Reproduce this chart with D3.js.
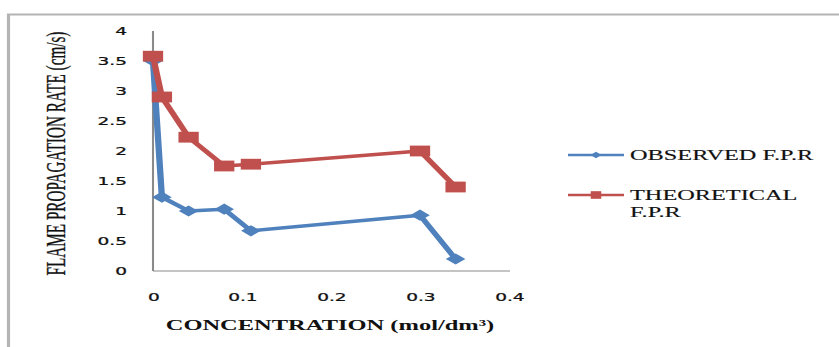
<!DOCTYPE html>
<html><head><meta charset="utf-8">
<script src="https://cdn.jsdelivr.net/npm/d3@7"></script>
<style>html,body{margin:0;padding:0;background:#fff;overflow:hidden}</style>
</head><body>
<script>
// Flame propagation rate against inhibitor concentration
const concentration = [0, 0.01, 0.04, 0.08, 0.11, 0.30, 0.34];
const observedFPR = [3.5, 1.23, 1.0, 1.03, 0.67, 0.93, 0.2];
const theoreticalFPR = [3.58, 2.9, 2.23, 1.75, 1.78, 2.0, 1.4];
const xTicks = [0, 0.1, 0.2, 0.3, 0.4];
const yTicks = [0, 0.5, 1, 1.5, 2, 2.5, 3, 3.5, 4];
const seriesNames = ["OBSERVED F.P.R", "THEORETICAL F.P.R"];
const seriesColors = ["#4F81BD", "#C0504D"];

// The whole drawing is laid out in a narrower coordinate space and widened horizontally.
const W = 839, H = 347, SX = 1.75;
const px = v => v / SX;

const svg = d3.select("body").append("svg")
  .attr("width", W).attr("height", H)
  .attr("viewBox", `0 0 ${W / SX} ${H}`)
  .attr("preserveAspectRatio", "none");

// Outer frame: top and left edges only
svg.append("path")
  .attr("d", `M${px(8.5)},${H} V14.5 H${W / SX}`)
  .attr("fill", "none").attr("stroke", "#b4b4b4").attr("stroke-width", 1.8);

const x = d3.scaleLinear().domain([0, 0.4]).range([px(153), px(509)]);
const y = d3.scaleLinear().domain([0, 4]).range([271, 31]);

const tickFont = "'DejaVu Sans', Verdana, sans-serif";
const serif = "'Liberation Serif', 'Times New Roman', serif";

// Axes (no tick marks)
const xAxis = svg.append("g").attr("transform", `translate(0,${y(0)})`)
  .call(d3.axisBottom(x).tickValues(xTicks).tickSize(0).tickPadding(0)
    .tickFormat(d => d === 0 ? "0" : d3.format(".1f")(d)));
xAxis.select(".domain").attr("stroke", "#8a8a8a").attr("stroke-width", 1.2)
  .attr("d", `M${x(0)},0H${x(0.4) + px(1)}`);
xAxis.selectAll("text").attr("y", 30).attr("dy", 0)
  .attr("font-family", tickFont).attr("font-size", 10.6).attr("fill", "#111")
  .attr("stroke", "#111").attr("stroke-width", 0.25);

const yAxis = svg.append("g").attr("transform", `translate(${x(0)},0)`)
  .call(d3.axisLeft(y).tickValues(yTicks).tickSize(0).tickPadding(0)
    .tickFormat(d => String(d)));
yAxis.select(".domain").attr("stroke", "#8a8a8a").attr("stroke-width", 1.2)
  .attr("d", `M0,${y(4)}V${y(0)}`);
yAxis.selectAll("text").attr("x", -px(26)).attr("dy", "0.36em")
  .attr("font-family", tickFont).attr("font-size", 10.6).attr("fill", "#111")
  .attr("stroke", "#111").attr("stroke-width", 0.25);

// Axis titles
svg.append("text")
  .attr("x", px(330)).attr("y", 330)
  .attr("text-anchor", "middle")
  .attr("font-family", serif).attr("font-weight", "bold").attr("font-size", 14)
  .attr("fill", "#111")
  .text("CONCENTRATION (mol/dm³)");

svg.append("text")
  .attr("transform", `translate(${px(65)},${153.5}) rotate(-90)`)
  .attr("text-anchor", "middle")
  .attr("font-family", serif).attr("font-size", 15.2)
  .attr("fill", "#111").attr("stroke", "#111").attr("stroke-width", 0.2)
  .text("FLAME PROPAGATION RATE (cm/s)");

// Series
const series = [observedFPR, theoreticalFPR];
const line = d3.line().x(d => x(d[0])).y(d => y(d[1]));
const diamond = s => `M0,${-s}L${s},0L0,${s}L${-s},0Z`;

series.forEach((vals, i) => {
  const pts = concentration.map((c, j) => [c, vals[j]]);
  const g = svg.append("g");
  g.append("path").datum(pts)
    .attr("d", line)
    .attr("fill", "none").attr("stroke", seriesColors[i])
    .attr("stroke-width", 3.6).attr("stroke-linejoin", "round");
  if (i === 0) {
    g.selectAll("path.mk").data(pts).join("path").attr("class", "mk")
      .attr("transform", d => `translate(${x(d[0])},${y(d[1])})`)
      .attr("d", diamond(5.6)).attr("fill", seriesColors[i]);
  } else {
    g.selectAll("rect").data(pts).join("rect")
      .attr("x", d => x(d[0]) - 5.8).attr("y", d => y(d[1]) - 5.4)
      .attr("width", 11.6).attr("height", 10.8)
      .attr("fill", seriesColors[i]);
  }
});

// Legend
const legend = svg.append("g");
const legendY = [155, 195];
seriesNames.forEach((name, i) => {
  const ly = legendY[i];
  legend.append("line")
    .attr("x1", px(568)).attr("x2", px(624)).attr("y1", ly).attr("y2", ly)
    .attr("stroke", seriesColors[i]).attr("stroke-width", 2.4);
  if (i === 0) {
    legend.append("path").attr("transform", `translate(${px(596)},${ly})`)
      .attr("d", diamond(3.2)).attr("fill", seriesColors[i]);
  } else {
    legend.append("rect").attr("x", px(596) - 3).attr("y", ly - 3.8)
      .attr("width", 6).attr("height", 7.6).attr("fill", seriesColors[i]);
  }
  const t = legend.append("text")
    .attr("x", px(630)).attr("y", ly + 5.5)
    .attr("font-family", serif).attr("font-size", 13.9).attr("fill", "#111")
    .attr("stroke", "#111").attr("stroke-width", 0.15);
  if (i === 0) {
    t.text(name);
  } else {
    const parts = name.split(" ");
    t.append("tspan").attr("x", px(630)).text(parts[0]);
    t.append("tspan").attr("x", px(630)).attr("dy", 17).text(parts[1]);
  }
});
</script>
</body></html>
